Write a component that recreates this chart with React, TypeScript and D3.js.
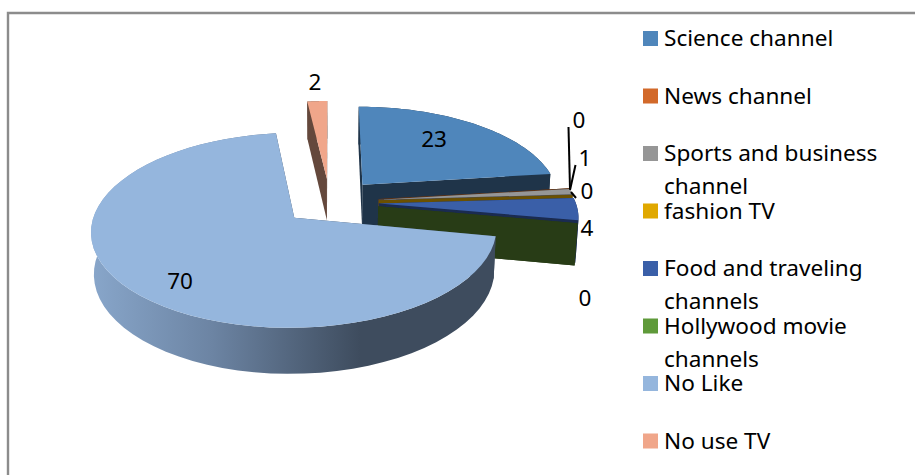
import * as d3 from "d3";

const categories = [
  "Science channel",
  "News channel",
  "Sports and business channel",
  "fashion TV",
  "Food and traveling channels",
  "Hollywood movie channels",
  "No Like",
  "No use TV",
];
const values = [23, 0, 1, 0, 4, 0, 70, 2];
const legendLines = [
  ["Science channel"],
  ["News channel"],
  ["Sports and business", "channel"],
  ["fashion TV"],
  ["Food and traveling", "channels"],
  ["Hollywood movie", "channels"],
  ["No Like"],
  ["No use TV"],
];
const topColors = ["#4f86bb", "#d2692a", "#969696", "#e0a800", "#3a5fa8", "#5f9a3a", "#95b6dd", "#f0a68a"];
const wallColors = ["#1f3449", "#5f3315", "#4a4a4a", "#6b5000", "#1a2b50", "#283c16", "#3e4c5e", "#64483c"];

// Painter's order for the exploded slices, back to front.
const paintOrder = [7, 0, 1, 2, 3, 4, 5, 6];

// Label anchor per slice: [x, y] of the text centre.
const labelAnchors: [number, number][] = [
  [434, 139], [579, 120], [585, 158], [587, 191], [587, 228], [585, 298], [180, 281], [315, 82],
];
// Leader lines joining the small slices to their labels.
const leaders: [number, number, number, number][] = [
  [568.5, 127, 570, 189],
  [575.5, 165, 570, 190],
  [571, 192, 576, 198],
];

// Projection of the tilted pie.
const base = { x: 330, y: 202 };
const explodeX = 49;
const explodeY = 23;
const vanishX = 330;
const perspective = 0.128;
const heightPx = 42;
const heightShrink = 0.012;
const radiusX = [193, 196, 196, 196, 197, 197, 201, 180];
const radiusY = [88, 88, 88, 88, 88, 88, 96, 88];

const arcs = d3.pie<number>().sort(null).startAngle(0).endAngle(2 * Math.PI)(values);

function hub(i: number) {
  const mid = (arcs[i].startAngle + arcs[i].endAngle) / 2;
  return { x: base.x + explodeX * Math.sin(mid), y: base.y - explodeY * Math.cos(mid) };
}

function project(i: number, angle: number, radius: number, z: number): [number, number] {
  const h = hub(i);
  const u = radius * Math.sin(angle);
  const v = radius * Math.cos(angle);
  const d = 1 + perspective * v + heightShrink * z;
  return [
    vanishX + (h.x - vanishX + radiusX[i] * u) / d,
    h.y + (-radiusY[i] * v + heightPx * z) / d,
  ];
}

const toPath = d3.line<[number, number]>();

function rim(i: number, z: number): [number, number][] {
  const a = arcs[i];
  const scale = d3.scaleLinear().domain([0, 60]).range([a.startAngle, a.endAngle]);
  return d3.range(61).map((t) => project(i, scale(t), 1, z));
}

function topPath(i: number) {
  return toPath([project(i, 0, 0, 0), ...rim(i, 0)])! + "Z";
}
function wallPath(i: number) {
  return toPath([...rim(i, 0), ...rim(i, 1).reverse()])! + "Z";
}
function cutPath(i: number, angle: number) {
  return (
    toPath([project(i, angle, 0, 0), project(i, angle, 1, 0), project(i, angle, 1, 1), project(i, angle, 0, 1)])! + "Z"
  );
}

const legendY = d3.scaleLinear().domain([0, 7]).range([38.5, 441]);
const font = "'Noto Sans', sans-serif";

export default function App() {
  return (
    <svg
      width={915}
      height={475}
      viewBox="0 0 915 475"
      style={{ position: "absolute", left: 0, top: 0, background: "#fff" }}
    >
      <defs>
        <linearGradient id="noLikeWall" gradientUnits="userSpaceOnUse" x1={92} x2={360} y1={0} y2={0}>
          <stop offset="0" stopColor="#88a6ca" />
          <stop offset="0.45" stopColor="#6c84a3" />
          <stop offset="1" stopColor="#3e4c5e" />
        </linearGradient>
      </defs>
      <path d="M8 476V13H916" fill="none" stroke="#8c8c8c" strokeWidth={2.4} />

      {paintOrder.map((i) => {
        const isNoLike = categories[i] === "No Like";
        const wall = isNoLike ? "url(#noLikeWall)" : wallColors[i];
        return (
          <g key={categories[i]}>
            <path d={cutPath(i, arcs[i].startAngle)} fill={wallColors[i]} />
            <path d={wallPath(i)} fill={wall} />
            <path d={cutPath(i, arcs[i].endAngle)} fill={wallColors[i]} />
            {values[i] > 0 && <path d={topPath(i)} fill={topColors[i]} />}
          </g>
        );
      })}

      {leaders.map(([x1, y1, x2, y2], k) => (
        <line key={k} x1={x1} y1={y1} x2={x2} y2={y2} stroke="#000" strokeWidth={2} />
      ))}

      {values.map((v, i) => (
        <text
          key={i}
          x={labelAnchors[i][0]}
          y={labelAnchors[i][1]}
          dy="0.35em"
          textAnchor="middle"
          fontFamily={font}
          fontSize={22.5}
          fill="#000"
        >
          {v}
        </text>
      ))}

      {categories.map((c, i) => (
        <g key={c}>
          <rect x={643} y={legendY(i) - 7.5} width={15} height={15} fill={topColors[i]} />
          {legendLines[i].map((line, l) => (
            <text
              key={line}
              x={664}
              y={legendY(i) + 7.5 + l * 33}
              fontFamily={font}
              fontSize={22.6}
              fill="#000"
            >
              {line}
            </text>
          ))}
        </g>
      ))}
    </svg>
  );
}
